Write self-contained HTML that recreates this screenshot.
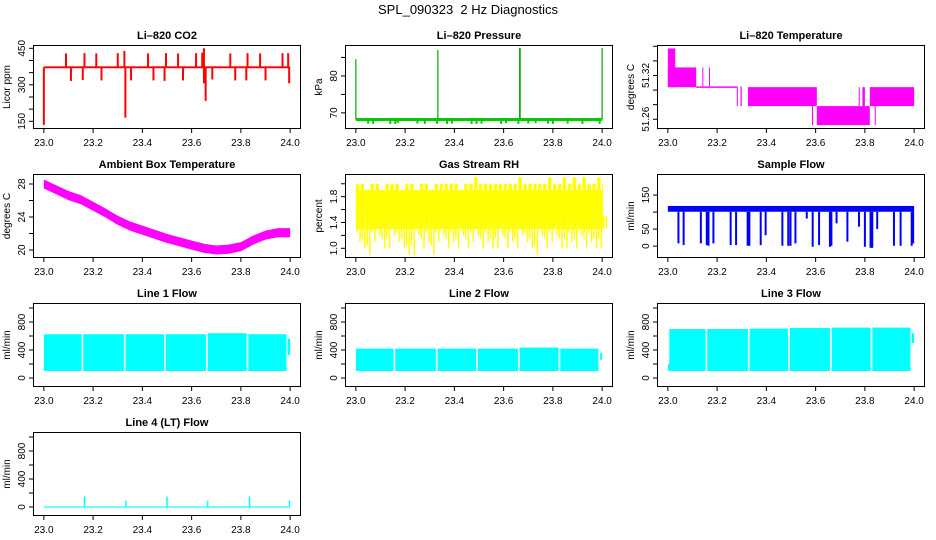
<!DOCTYPE html>
<html><head><meta charset="utf-8"><style>
html,body{margin:0;padding:0;background:#fff;}
svg{display:block;font-family:"Liberation Sans",Arial,sans-serif;}
</style></head><body>
<svg id="chart" width="936" height="540" viewBox="0 0 936 540" xmlns="http://www.w3.org/2000/svg">
<rect width="936" height="540" fill="#fff"/>
<text x="468" y="14" text-anchor="middle" font-size="13">SPL_090323&#160; 2 Hz Diagnostics</text>
</svg>
<script>
// ---- data ----
const xTicks=[23.0,23.2,23.4,23.6,23.8,24.0];
const xTickLabels=["23.0","23.2","23.4","23.6","23.8","24.0"];
// CO2
const co2Base=372;
const co2UpT=[23.09,23.165,23.213,23.30,23.327,23.423,23.496,23.545,23.618,23.643,23.65,23.757,23.827,23.878,23.969,23.992];
const co2UpV=[429,430,429,430,439,429,430,429,430,432,450,429,430,429,430,430];
const co2DnT=[23.0,23.11,23.158,23.234,23.331,23.354,23.445,23.49,23.565,23.657,23.65,23.684,23.777,23.822,23.9,23.996];
const co2DnV=[135,316,320,318,165,318,318,316,318,234,306,322,318,318,318,306];
// Pressure
const presBase=68.3;
const presSpikeT=[23.0,23.333,23.665,23.667,24.0];
const presSpikeV=[84.5,87.0,87.6,87.6,87.6];
const presDipT=[23.05,23.07,23.14,23.16,23.17,23.25,23.28,23.33,23.37,23.39,23.47,23.49,23.51,23.59,23.61,23.66,23.7,23.73,23.78,23.8,23.86,23.92,23.99];
const presDipV=[67.1,67.0,67.0,67.0,67.3,67.1,67.0,67.0,67.0,67.1,67.0,67.0,67.1,67.0,67.2,67.0,67.1,67.2,67.1,67.0,67.1,67.0,67.0];
// Li-820 temperature blocks
const tmpT0=[23.0,23.0,23.14,23.167,23.115,23.28,23.295,23.325,23.585,23.605,23.775,23.79,23.82,23.84];
const tmpT1=[23.03,23.115,23.143,23.17,23.28,23.283,23.3,23.605,23.59,23.82,23.778,23.8,24.0,23.843];
const tmpLo=[51.304,51.304,51.304,51.304,51.303,51.278,51.278,51.278,51.252,51.252,51.278,51.278,51.278,51.252];
const tmpHi=[51.357,51.331,51.331,51.331,51.305,51.305,51.305,51.304,51.278,51.278,51.304,51.304,51.304,51.278];
// Ambient box temp
const ambT=[23.0,23.05,23.1,23.15,23.2,23.25,23.3,23.35,23.4,23.45,23.5,23.55,23.6,23.65,23.7,23.75,23.8,23.85,23.9,23.95,24.0];
const ambV=[28.0,27.3,26.6,26.1,25.3,24.5,23.6,22.9,22.4,21.9,21.4,21.0,20.6,20.2,20.0,20.1,20.4,21.2,21.8,22.1,22.1];
const ambHalf=0.55;
// Gas stream RH (sampled every 0.02 h)
const rhHi=[2.0,2.0,1.9,2.0,2.0,1.9,2.0,2.0,2.0,1.9,2.0,2.0,1.9,2.0,2.0,1.9,2.0,2.0,2.0,2.0,2.0,1.9,2.0,2.0,2.1,2.0,2.0,2.0,2.0,2.0,2.0,2.0,2.0,2.1,2.0,2.0,2.0,2.0,2.0,2.1,2.0,2.0,2.1,2.0,2.1,2.0,2.1,2.0,2.0,2.1,2.0];
const rhLo=[1.1,1.0,0.9,1.1,1.2,1.0,1.0,1.2,1.1,1.0,0.9,0.9,1.2,1.0,1.1,0.9,1.1,1.2,1.0,1.1,1.0,1.2,1.0,1.1,1.2,1.0,1.1,1.0,1.0,1.2,1.0,1.1,1.0,1.2,1.1,1.0,0.9,1.2,1.0,1.1,1.2,1.0,1.0,1.1,1.0,1.2,1.0,1.1,1.0,1.0,1.3];
// Sample flow
const sfLo=101, sfHi=118;
const sfDipT=[23.043,23.064,23.134,23.158,23.165,23.185,23.255,23.277,23.324,23.331,23.377,23.397,23.465,23.489,23.498,23.518,23.564,23.588,23.614,23.658,23.664,23.685,23.729,23.776,23.8,23.823,23.83,23.85,23.918,23.945,23.99,23.996];
const sfDipV=[8,3,8,3,1,8,3,3,1,1,3,32,1,1,1,8,81,-2,3,-2,1,67,13,57,-2,-5,-5,50,1,1,1,8];
// Line flows
const l1SegT0=[23.0,23.16,23.332,23.495,23.665,23.83,23.99];
const l1SegT1=[23.153,23.325,23.488,23.658,23.823,23.985,24.0];
const l1Lo=[100,100,100,100,100,100,330];
const l1Hi=[625,625,625,625,640,625,560];
const l2SegT0=[23.0,23.16,23.332,23.495,23.665,23.83,23.992];
const l2SegT1=[23.153,23.325,23.488,23.658,23.823,23.985,24.0];
const l2Lo=[100,100,100,100,100,100,260];
const l2Hi=[420,420,420,420,435,420,360];
const l3SegT0=[23.0,23.006,23.16,23.332,23.495,23.665,23.83,23.99];
const l3SegT1=[23.006,23.153,23.325,23.488,23.658,23.823,23.985,24.0];
const l3Lo=[100,100,100,100,100,100,100,500];
const l3Hi=[200,700,700,705,715,720,720,640];
// Line 4
const l4Lo=-8, l4Hi=8;
const l4SpikeT=[23.165,23.333,23.5,23.665,23.835,23.997];
const l4SpikeV=[150,90,150,90,150,90];

// ---- layout ----
const svg=document.getElementById('chart');
const NS='http://www.w3.org/2000/svg';
const colLeft=[34,346,658], rowTop=[46,175,304,433], W=266, H=82;
function el(tag,attrs,parent){const e=document.createElementNS(NS,tag);for(const k in attrs)e.setAttribute(k,attrs[k]);(parent||svg).appendChild(e);return e;}

function panel(name,col,row,title,ylab,ymin,ymax,yTicks,yLabels){
  const L=colLeft[col],T=rowTop[row];
  const g=el('g',{});
  
  
  const x=t=>L+(t-22.96)/1.08*W;
  const y=v=>T+H-(v-ymin)/(ymax-ymin)*H;
  const clip='clip-'+name;
  const cp=el('clipPath',{id:clip},g);el('rect',{x:L,y:T,width:W,height:H},cp);
  const plot=el('g',{'clip-path':'url(#'+clip+')'},g);
  
  
  const tt=el('text',{x:L+W/2,y:T-7,'text-anchor':'middle','font-size':'11','font-weight':'bold'},g);
  
  
  tt.textContent=title;
  const xa=el('g',{stroke:'#000','stroke-width':'1'},g);
  
  
  el('line',{x1:x(xTicks[0]),x2:x(xTicks[xTicks.length-1]),y1:T+H+0.5,y2:T+H+0.5},xa);
  xTicks.forEach((t,i)=>{
    el('line',{x1:x(t),x2:x(t),y1:T+H,y2:T+H+5},xa);
    const lb=el('text',{x:x(t),y:T+H+18,'text-anchor':'middle','font-size':'10',stroke:'none',fill:'#000'},g);
    
    
    lb.textContent=xTickLabels[i];
  });
  const ya=el('g',{stroke:'#000','stroke-width':'1'},g);
  
  
  el('line',{x1:L-0.5,x2:L-0.5,y1:y(yTicks[0]),y2:y(yTicks[yTicks.length-1])},ya);
  yTicks.forEach((v,i)=>{
    el('line',{x1:L-5,x2:L,y1:y(v),y2:y(v)},ya);
    if(yLabels[i]){
      const lb=el('text',{x:0,y:0,'text-anchor':'middle','font-size':'10',transform:`translate(${L-9},${y(v)}) rotate(-90)`},g);
      
      
      lb.textContent=yLabels[i];
    }
  });
  const yl=el('text',{x:0,y:0,'text-anchor':'middle','font-size':'10',transform:`translate(${L-24},${T+H/2}) rotate(-90)`},g);
  
  
  yl.textContent=ylab;
  const bx=el('rect',{x:L-0.5,y:T-0.5,width:W+1,height:H+1,fill:'none',stroke:'#000'},g);
  
  
  return {x,y,plot};
}
function vline(p,t,v1,v2,color,w){const l=el('line',{x1:p.x(t),x2:p.x(t),y1:p.y(v1),y2:p.y(v2),stroke:color,'stroke-width':w||1.5},p.plot);return l;}
function block(p,t0,t1,lo,hi,color){const r=el('rect',{x:p.x(t0),y:p.y(hi),width:Math.max(1,p.x(t1)-p.x(t0)),height:Math.max(1,p.y(lo)-p.y(hi)),fill:color},p.plot);return r;}

// CO2
{const p=panel('co2',0,0,'Li\u2013820 CO2','Licor ppm',122.5,459.5,[150,200,250,300,350,400,450],['150','','','300','','','450']);
 block(p,23.0,24.0,co2Base-4,co2Base+4,'#f00');
 co2UpT.forEach((t,i)=>vline(p,t,co2Base,co2UpV[i],'#f00',2));
 co2DnT.forEach((t,i)=>vline(p,t,co2Base,co2DnV[i],'#f00',2));}
// Pressure
{const p=panel('pressure',1,0,'Li\u2013820 Pressure','kPa',65.9,88.1,[70,75,80,85],['70','','80','']);
 block(p,23.0,24.0,presBase-0.5,presBase+0.3,'#0c0');
 presDipT.forEach((t,i)=>vline(p,t,presBase,presDipV[i],'#0c0',2));
 presSpikeT.forEach((t,i)=>vline(p,t,presBase,presSpikeV[i],'#0a0',1.2));}
// Li820 temp
{const p=panel('li820-temp',2,0,'Li\u2013820 Temperature','degrees C',51.248,51.3604,[51.26,51.28,51.30,51.32,51.34,51.36],['51.26','','','51.32','','']);
 tmpT0.forEach((t,i)=>block(p,t,tmpT1[i],tmpLo[i],tmpHi[i],'#f0f'));}
// Ambient
{const p=panel('ambient-temp',0,1,'Ambient Box Temperature','degrees C',19.15,29.09,[20,22,24,26,28],['20','','24','','28']);
 const pts=[];ambT.forEach((t,i)=>pts.push(p.x(t)+','+p.y(ambV[i]+ambHalf)));
 for(let i=ambT.length-1;i>=0;i--)pts.push(p.x(ambT[i])+','+p.y(ambV[i]-ambHalf));
 const pg=el('polygon',{points:pts.join(' '),fill:'#f0f'},p.plot);
 
 }
// RH
{const p=panel('rh',1,1,'Gas Stream RH','percent',0.865,2.136,[1.0,1.2,1.4,1.6,1.8,2.0],['1.0','','1.4','','1.8','']);
 const step=0.02;
 block(p,23.0,24.0,1.48,1.9,'#ff0');
 rhHi.forEach((h,i)=>{const t=23+i*step;
   block(p,t,Math.min(24,t+step*0.7),1.3,h,'#ff0');
   vline(p,t+step*0.85,rhLo[i],1.5,'#ff0',1.5);
   vline(p,t+step*0.3,Math.min(1.3,rhLo[i]+0.15),1.5,'#ff0',1.5);});}
// Sample flow
{const p=panel('sample-flow',2,1,'Sample Flow','ml/min',-32,209,[0,50,100,150],['0','50','','150']);
 block(p,23.0,24.0,sfLo,sfHi,'#00f');
 sfDipT.forEach((t,i)=>vline(p,t,sfLo,sfDipV[i],'#00f',2));}
// line flows
const flowTicks=[0,200,400,600,800,1000], flowLabels=['0','','400','','800',''];
[['line1-flow',0,'Line 1 Flow',l1SegT0,l1SegT1,l1Lo,l1Hi],['line2-flow',1,'Line 2 Flow',l2SegT0,l2SegT1,l2Lo,l2Hi],['line3-flow',2,'Line 3 Flow',l3SegT0,l3SegT1,l3Lo,l3Hi]].forEach(d=>{
  const p=panel(d[0],d[1],2,d[2],'ml/min',-114,1057,flowTicks,flowLabels);
  d[3].forEach((t,i)=>block(p,t,d[4][i],d[5][i],d[6][i],'#0ff'));
});
// line 4
{const p=panel('line4-flow',0,3,'Line 4 (LT) Flow','ml/min',-114,1057,flowTicks,flowLabels);
 block(p,23.0,24.0,l4Lo,l4Hi,'#0ff');
 l4SpikeT.forEach((t,i)=>vline(p,t,0,l4SpikeV[i],'#0ff',1.5));}
</script>
</body></html>
